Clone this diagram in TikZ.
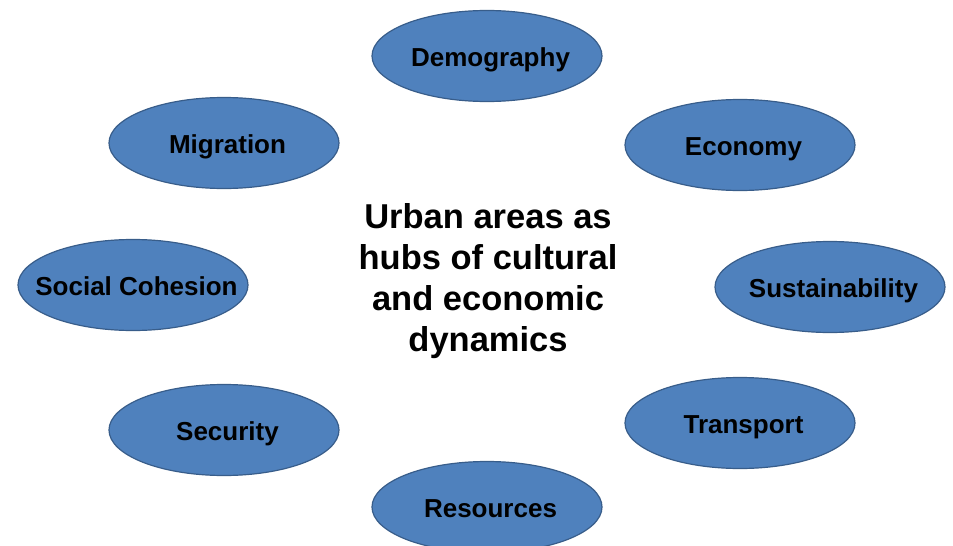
\documentclass[tikz,border=0pt]{standalone}
\usepackage{fontspec}
\setmainfont{Liberation Sans}
\usepackage{tikz}
\usetikzlibrary{shapes.geometric}
\definecolor{topicfill}{HTML}{4F81BD}
\definecolor{topicline}{HTML}{385D8A}

\begin{document}
\begin{tikzpicture}[x=1pt,y=-1pt,
                    topic node/.style={ellipse,draw=topicline,line width=1.2pt,fill=topicfill,
                                       minimum width=230pt,minimum height=91pt,
                                       inner xsep=-40pt,inner ysep=0pt,
                                       text height=20pt,text depth=0pt,
                                       execute at begin node=\hspace*{7pt},
                                       font=\fontsize{26}{30}\selectfont\bfseries},
                    hub node/.style={align=center,font=\fontsize{34.5}{41}\selectfont\bfseries}]

  \useasboundingbox (0,0) rectangle (953,546);

  \node[hub node] (hub) at (488,281) {Urban areas as\\hubs of cultural\\and economic\\dynamics};

  \node[topic node] (demo) at (487,56)  {Demography};
  \node[topic node] (econ) at (740,145) {Economy};
  \node[topic node] (sust) at (830,287) {Sustainability};
  \node[topic node] (tran) at (740,423) {Transport};
  \node[topic node] (reso) at (487,507) {Resources};
  \node[topic node] (secu) at (224,430) {Security};
  \node[topic node] (soci) at (133,285) {Social Cohesion};
  \node[topic node] (migr) at (224,143) {Migration};

\end{tikzpicture}
\end{document}
